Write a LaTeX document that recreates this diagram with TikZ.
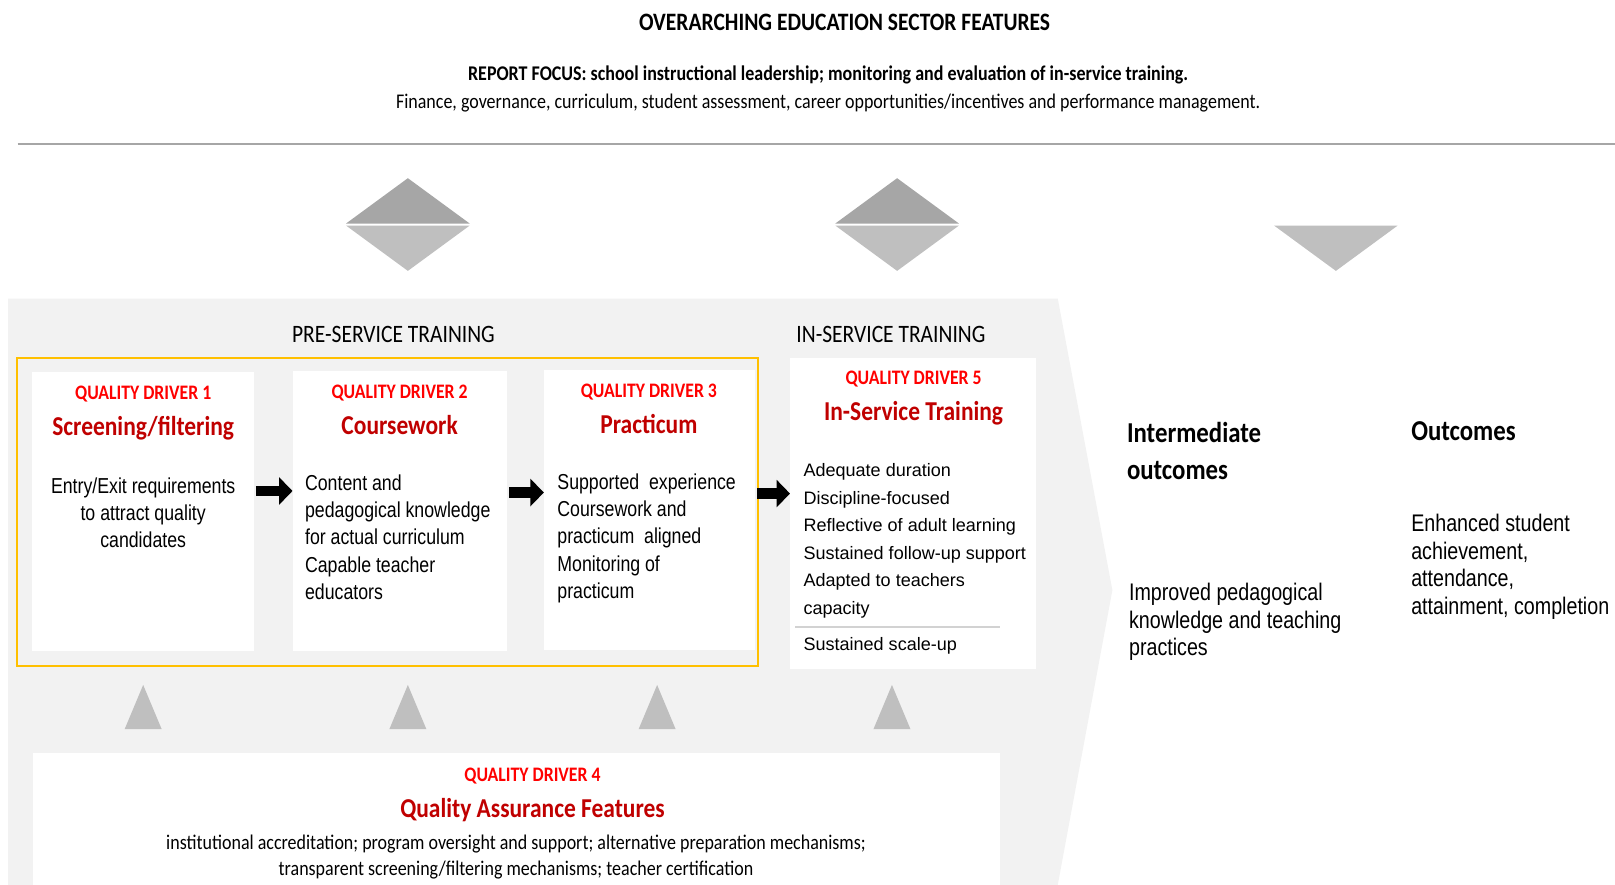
\documentclass[tikz,border=0pt]{standalone}
\usepackage{fontspec}
\setmainfont{Carlito}[FakeStretch=0.86]
\newfontfamily\narrowfont{Liberation Sans}[FakeStretch=0.82]
\newfontfamily\arialfont{Liberation Sans}
\usetikzlibrary{arrows.meta, positioning, calc}
\definecolor{QDRED}{HTML}{FF0000}
\definecolor{TTLRED}{HTML}{C00000}
\definecolor{BGGREY}{HTML}{F2F2F2}
\definecolor{DKGREY}{HTML}{A6A6A6}
\definecolor{LTGREY}{HTML}{BFBFBF}
\definecolor{FRAME}{HTML}{FFC000}
\tikzset{
  BOX/.style={% Style for white driver boxes
      rectangle, fill=white, inner sep=0pt, anchor=north west
  },
  QD/.style={% Style for red driver numbers
      text=QDRED, font=\fontsize{20}{24}\selectfont\bfseries,
      inner sep=0pt, anchor=base
  },
  TTL/.style={% Style for driver titles
      text=TTLRED, font=\fontsize{26.5}{32}\selectfont\bfseries,
      inner sep=0pt, anchor=base
  },
  BODY/.style={% Style for narrow body text
      font=\narrowfont\fontsize{21}{26.5}\selectfont,
      inner sep=0pt, align=left, anchor=north west
  },
  HEAD/.style={% Style for section headings
      font=\fontsize{24.3}{28}\selectfont, inner sep=0pt, anchor=base
  },
  flow/.style={% Style for black block arrows
      line width=10pt, -{Triangle[width=26pt,length=13pt]}, shorten <=2pt
  }
}

\begin{document}
\begin{tikzpicture}[x=1pt, y=-1pt]
  \useasboundingbox (0,0) rectangle (1568,859);
  % top features
  \node[font=\fontsize{24.3}{28}\selectfont\bfseries, inner sep=0pt, anchor=base] (title) at (820,29.2) {OVERARCHING EDUCATION SECTOR FEATURES};
  \node[font=\fontsize{20.3}{24}\selectfont\bfseries, inner sep=0pt, anchor=base] (focus) at (804,78.4) {REPORT FOCUS: school instructional leadership; monitoring and evaluation of in-service training.};
  \node[font=\fontsize{20.3}{24}\selectfont, inner sep=0pt, anchor=base] (finance) at (804,105.4) {Finance, governance, curriculum, student assessment, career opportunities/incentives and performance management.};
  \draw[DKGREY, line width=1.5pt] (17,140) -- (1568,140);
  % diamonds
  \foreach \x in {396,871} {
    \fill[DKGREY] (\x-60,217) -- (\x,173) -- (\x+60,217) -- cycle;
    \fill[LTGREY] (\x-60,219) -- (\x,263) -- (\x+60,219) -- cycle;
  }
  \fill[LTGREY] (1237,219) -- (1297,263) -- (1357,219) -- cycle;
  % grey chevron
  \fill[BGGREY] (8,290) -- (1027,290) -- (1080,573) -- (1027,859) -- (8,859) -- cycle;
  \node[HEAD] (pre) at (382,332.7) {PRE-SERVICE TRAINING};
  \node[HEAD] (ins) at (865,332.7) {IN-SERVICE TRAINING};
  \node[draw=FRAME, line width=1.5pt, minimum width=719pt, minimum height=299pt, anchor=north west, inner sep=0pt] (frame) at (16,347) {};
  % driver boxes
  \node[BOX, minimum width=215pt, minimum height=271pt] (b1) at (31,361) {};
  \node[BOX, minimum width=208pt, minimum height=272pt] (b2) at (284,360) {};
  \node[BOX, minimum width=205pt, minimum height=272pt] (b3) at (528,359) {};
  \node[BOX, minimum width=239pt, minimum height=302pt] (b5) at (767,347) {};
  \node[BOX, minimum width=939pt, minimum height=128pt] (b4) at (32,731) {};
  % driver 1
  \node[QD] (q1) at (139,388.3) {QUALITY DRIVER 1};
  \node[TTL] (t1) at (139,422.5) {Screening/filtering};
  \node[BODY, align=center, anchor=north] (d1) at (139,463.5) {Entry/Exit requirements\\to attract quality\\candidates};
  % driver 2
  \node[QD] (q2) at (388,387.3) {QUALITY DRIVER 2};
  \node[TTL] (t2) at (388,421.5) {Coursework};
  \node[BODY] (d2) at (296,460.5) {Content and\\pedagogical knowledge\\for actual curriculum\\Capable teacher\\educators};
  % driver 3
  \node[QD] (q3) at (630,386.3) {QUALITY DRIVER 3};
  \node[TTL] (t3) at (630,420.5) {Practicum};
  \node[BODY] (d3) at (541,459.5) {Supported\ \ experience\\Coursework and\\practicum\ \ aligned\\Monitoring of\\practicum};
  % driver 5
  \node[QD] (q5) at (887,373.3) {QUALITY DRIVER 5};
  \node[TTL] (t5) at (887,408.5) {In-Service Training};
  \node[BODY, font=\arialfont\fontsize{17.5}{26.8}\selectfont] (d5) at (780,449.75) {Adequate duration\\Discipline-focused\\Reflective of adult learning\\Sustained follow-up support\\Adapted to teachers\\capacity};
  \draw[LTGREY!70, line width=1.5pt] (772,609) -- (971,609);
  \node[BODY, font=\arialfont\fontsize{17.5}{26.8}\selectfont] (s5) at (780,618.75) {Sustained scale-up};
  % driver 4
  \node[QD] (q4) at (517,758.3) {QUALITY DRIVER 4};
  \node[TTL] (t4) at (517,793.5) {Quality Assurance Features};
  \node[font=\fontsize{20.3}{26}\selectfont, inner sep=0pt, align=center, anchor=north] (d4) at (501,810) {institutional accreditation; program oversight and support; alternative preparation mechanisms;\\transparent screening/filtering mechanisms; teacher certification};
  % arrows between drivers
  \draw[flow] ([yshift=20pt]b1.east) -- ([yshift=20pt]b1.east -| b2.west);
  \draw[flow] ([yshift=18pt]b2.east) -- ([yshift=18pt]b2.east -| b3.west);
  \draw[flow] ([yshift=16pt]b3.east) -- ([yshift=16pt]b3.east -| b5.west);
  % support from driver 4
  \foreach \x in {139,396,638,866}
    \fill[LTGREY] (\x-18,708) -- (\x,665) -- (\x+18,708) -- cycle;
  % outcomes
  \node[font=\fontsize{28}{36}\selectfont\bfseries, inner sep=0pt, align=left, anchor=north west] (mid) at (1094,409.5) {Intermediate\\outcomes};
  \node[font=\fontsize{28}{36}\selectfont\bfseries, inner sep=0pt, anchor=north west] (out) at (1370,409.5) {Outcomes};
  \node[BODY, font=\narrowfont\fontsize{23.3}{27}\selectfont] (dmid) at (1096,565.7) {Improved pedagogical\\knowledge and teaching\\practices};
  \node[BODY, font=\narrowfont\fontsize{23.3}{27}\selectfont] (dout) at (1370,498.7) {Enhanced student\\achievement,\\attendance,\\attainment, completion};
\end{tikzpicture}
\end{document}
